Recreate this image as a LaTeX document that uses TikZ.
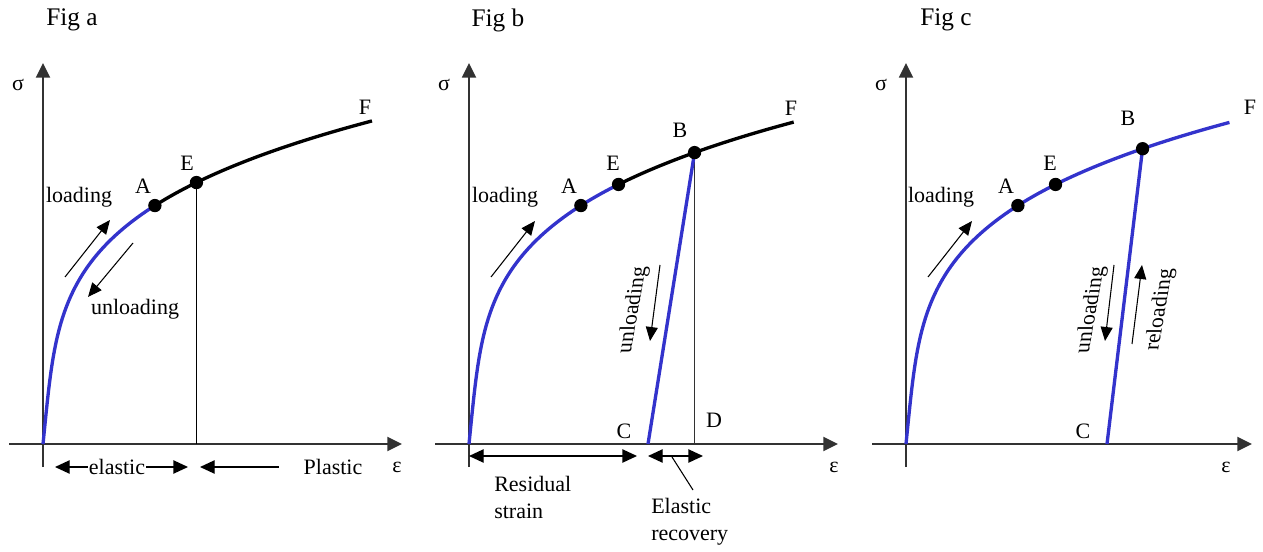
\documentclass[tikz,border=0pt]{standalone}
\usepackage{fontspec}
\setmainfont{Liberation Serif}
\usetikzlibrary{arrows.meta}
\definecolor{cblue}{RGB}{51,51,204}
\definecolor{axisgray}{RGB}{50,50,50}
% stress-strain curve: x = s/E + k s^4, written with u = s/322
\newcommand{\sscurve}[2]{\draw[curve,#1] plot[domain=#2, samples=120, variable=\u] ({32.2*\u+292.8*\u^4}, {-322*\u});}
\newcommand{\sspt}[2]{\coordinate (#1) at ({32.2*#2+292.8*(#2)^4}, {-322*#2});}
\tikzset{
  axis/.style={draw=axisgray, line width=1.4pt, -{Triangle[length=11pt,width=10.5pt]}},
  curve/.style={line width=2.5pt},
  thinline/.style={line width=1pt},
  smallarr/.style={line width=0.8pt, -{Triangle[length=10.5pt,width=9pt]}},
  dimarr/.style={line width=1pt, {Triangle[length=11pt,width=10pt]}-{Triangle[length=11pt,width=10pt]}},
  dot/.style={circle, fill=black, inner sep=0pt, minimum size=10pt},
  lbl/.style={font=\fontsize{16.5}{20}\selectfont, inner sep=0pt},
  figlbl/.style={font=\fontsize{19}{22}\selectfont, inner sep=0pt},
  vtext/.style={lbl, cm={0.174,0.985,-1,0,(0,0)}},
}
\begin{document}
\begin{tikzpicture}[x=0.75pt,y=-0.75pt]
\useasboundingbox (0,0) rectangle (1263,552);
% ================= Fig a =================
\node[figlbl] (figa) at (72,20) {Fig a};
\coordinate (xa0) at (9,444); \coordinate (xa1) at (402,444);
\coordinate (ya0) at (43,467); \coordinate (ya1) at (43,63);
\draw[axis] (xa0) -- (xa1);
\draw[axis] (ya0) -- (ya1);
\begin{scope}[shift={(43,444)}]
  \sscurve{black}{0.74:1.005}
  \sscurve{cblue}{0:0.7405}
  \sspt{Aac}{0.7405}
  \sspt{Eac}{0.812}
\end{scope}
\node[dot] (Aa) at (Aac) {};
\node[dot] (Ea) at (Eac) {};
\draw[thinline] (Ea.center) -- (Ea.center |- xa0);
\node[lbl] (sigA) at (18,85) {σ};
\node[lbl] (epsA) at (397,467) {ε};
\node[lbl] (labAa) at (143,186) {A};
\node[lbl] (labEa) at (187,163) {E};
\node[lbl] (labFa) at (365,107) {F};
\node[lbl] (loadA) at (79,197) {loading};
\node[lbl] (unloadA) at (135,309) {unloading};
\coordinate (la0) at (65,277); \coordinate (la1) at (110,220);
\draw[smallarr] (la0) -- (la1);
\coordinate (ua0) at (133,243); \coordinate (ua1) at (88,297);
\draw[smallarr] (ua0) -- (ua1);
\coordinate (el0) at (55,467); \coordinate (el1) at (188,467);
\draw[dimarr] (el0) -- (el1);
\node[lbl, fill=white, inner xsep=0.5pt] (elastic) at (117,467) {elastic};
\coordinate (pl0) at (279,467); \coordinate (pl1) at (200,467);
\draw[line width=1pt, {Triangle[length=11pt,width=10pt]}-] (pl1) -- (pl0);
\node[lbl] (plastic) at (333,467) {Plastic};
% ================= Fig b =================
\node[figlbl] (figb) at (498,20) {Fig b};
\coordinate (xb0) at (435,444); \coordinate (xb1) at (838,444);
\coordinate (yb0) at (469,467); \coordinate (yb1) at (469,63);
\draw[axis] (xb0) -- (xb1);
\draw[axis] (yb0) -- (yb1);
\begin{scope}[shift={(469,444)}]
  \sscurve{black}{0.80:1.0}
  \sscurve{cblue}{0:0.806}
  \sspt{Abc}{0.7405}
  \sspt{Ebc}{0.806}
  \sspt{Bbc}{0.905}
\end{scope}
\coordinate (Cb) at (648,444);
\draw[thinline, draw=axisgray] (Bbc) -- (Bbc |- xb0);
\draw[curve, cblue] (Bbc) -- (Cb);
\node[dot] (Ab) at (Abc) {};
\node[dot] (Eb) at (Ebc) {};
\node[dot] (Bb) at (Bbc) {};
\node[lbl] (sigB) at (444,85) {σ};
\node[lbl] (epsB) at (834,467) {ε};
\node[lbl] (labAb) at (569,186) {A};
\node[lbl] (labEb) at (613,163) {E};
\node[lbl] (labBb) at (680,130) {B};
\node[lbl] (labFb) at (791,108) {F};
\node[lbl] (labCb) at (624,431) {C};
\node[lbl] (labDb) at (714,420) {D};
\node[lbl] (loadB) at (505,197) {loading};
\coordinate (lb0) at (491,277); \coordinate (lb1) at (535,221);
\draw[smallarr] (lb0) -- (lb1);
\node[vtext] (unloadB) at (633,310) {unloading};
\coordinate (ub0) at (660,265); \coordinate (ub1) at (650,341);
\draw[smallarr] (ub0) -- (ub1);
\coordinate (rs0) at (469,456); \coordinate (rs1) at (637,456);
\draw[dimarr] (rs0) -- (rs1);
\coordinate (er0) at (648,456); \coordinate (er1) at (703,456);
\draw[dimarr] (er0) -- (er1);
\coordinate (ld0) at (672,457); \coordinate (ld1) at (693,490);
\draw[line width=0.8pt] (ld0) -- (ld1);
\node[lbl, anchor=north west, align=left] (resid) at (494,476) {Residual\\strain};
\node[lbl, anchor=north west, align=left] (erec) at (651,498) {Elastic\\recovery};
% ================= Fig c =================
\node[figlbl] (figc) at (946,20) {Fig c};
\coordinate (xc0) at (872,444); \coordinate (xc1) at (1252,444);
\coordinate (yc0) at (906,467); \coordinate (yc1) at (906,63);
\draw[axis] (xc0) -- (xc1);
\draw[axis] (yc0) -- (yc1);
\begin{scope}[shift={(906,444)}]
  \sscurve{cblue}{0:1.0}
  \sspt{Acc}{0.7405}
  \sspt{Ecc}{0.806}
  \sspt{Bcc}{0.917}
\end{scope}
\coordinate (Cc) at (1107,444);
\draw[curve, cblue] (Bcc) -- (Cc);
\node[dot] (Ac) at (Acc) {};
\node[dot] (Ec) at (Ecc) {};
\node[dot] (Bc) at (Bcc) {};
\node[lbl] (sigC) at (881,85) {σ};
\node[lbl] (epsC) at (1226,467) {ε};
\node[lbl] (labAc) at (1006,186) {A};
\node[lbl] (labEc) at (1050,163) {E};
\node[lbl] (labBc) at (1128,118) {B};
\node[lbl] (labFc) at (1250,107) {F};
\node[lbl] (labCc) at (1083,431) {C};
\node[lbl] (loadC) at (941,197) {loading};
\coordinate (lc0) at (928,277); \coordinate (lc1) at (972,221);
\draw[smallarr] (lc0) -- (lc1);
\node[vtext] (unloadC) at (1091,310) {unloading};
\coordinate (uc0) at (1114,265); \coordinate (uc1) at (1105,341);
\draw[smallarr] (uc0) -- (uc1);
\node[vtext] (reloadC) at (1160,310) {reloading};
\coordinate (rc0) at (1132,344); \coordinate (rc1) at (1142,265);
\draw[smallarr] (rc0) -- (rc1);
\end{tikzpicture}
\end{document}
